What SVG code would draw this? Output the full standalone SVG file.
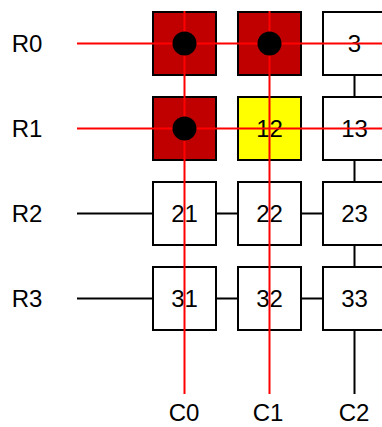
<svg xmlns="http://www.w3.org/2000/svg" width="382" height="427" viewBox="0 0 382 427">
<style>
.lbl{font-family:"Liberation Sans",Arial,sans-serif;font-size:24px;fill:#000;text-anchor:middle}
.box{stroke:#000;stroke-width:2;fill:#fff}
.sel{fill:#C00000}
.hl{fill:#FFFF00}
.bl{stroke:#000;stroke-width:2;fill:none}
.rd{stroke:#FF0000;stroke-width:2;fill:none}
</style>
<rect width="382" height="427" fill="#fff"/>
<g id="labels">
<text class="lbl" x="27" y="52">R0</text>
<text class="lbl" x="27" y="137">R1</text>
<text class="lbl" x="27" y="222">R2</text>
<text class="lbl" x="27" y="307">R3</text>
<text class="lbl" x="184" y="421">C0</text>
<text class="lbl" x="268" y="421">C1</text>
<text class="lbl" x="354" y="421">C2</text>
</g>
<g id="connectors-back">
<line class="bl" x1="77" y1="213.5" x2="382" y2="213.5"/>
<line class="bl" x1="77" y1="298.5" x2="382" y2="298.5"/>
<line class="bl" x1="354.5" y1="12" x2="354.5" y2="394"/>
</g>
<g id="n11"><rect class="box sel" x="153" y="12" width="63" height="63"/></g>
<g id="n12"><rect class="box sel" x="238" y="12" width="63" height="63"/></g>
<g id="n3"><rect class="box" x="323" y="12" width="63" height="63"/><text class="lbl" x="354.5" y="52">3</text></g>
<g id="n21"><rect class="box sel" x="153" y="97" width="63" height="63"/></g>
<g id="n12b"><rect class="box hl" x="238" y="97" width="63" height="63"/><text class="lbl" x="269.5" y="137">12</text></g>
<g id="n13"><rect class="box" x="323" y="97" width="63" height="63"/><text class="lbl" x="354.5" y="137">13</text></g>
<g id="n21c"><rect class="box" x="153" y="182" width="63" height="63"/><text class="lbl" x="184.5" y="222">21</text></g>
<g id="n22"><rect class="box" x="238" y="182" width="63" height="63"/><text class="lbl" x="269.5" y="222">22</text></g>
<g id="n23"><rect class="box" x="323" y="182" width="63" height="63"/><text class="lbl" x="354.5" y="222">23</text></g>
<g id="n31"><rect class="box" x="153" y="267" width="63" height="63"/><text class="lbl" x="184.5" y="307">31</text></g>
<g id="n32"><rect class="box" x="238" y="267" width="63" height="63"/><text class="lbl" x="269.5" y="307">32</text></g>
<g id="n33"><rect class="box" x="323" y="267" width="63" height="63"/><text class="lbl" x="354.5" y="307">33</text></g>
<g id="connectors">
<line class="rd" x1="77" y1="43.5" x2="382" y2="43.5"/>
<line class="rd" x1="77" y1="128.5" x2="382" y2="128.5"/>
<line class="rd" x1="184.5" y1="11" x2="184.5" y2="394"/>
<line class="rd" x1="269.5" y1="11" x2="269.5" y2="394"/>
</g>
<g id="dots">
<circle cx="184.5" cy="43.5" r="12" fill="#000"/>
<circle cx="269.5" cy="43.5" r="12" fill="#000"/>
<circle cx="184.5" cy="128.5" r="12" fill="#000"/>
</g>
</svg>
